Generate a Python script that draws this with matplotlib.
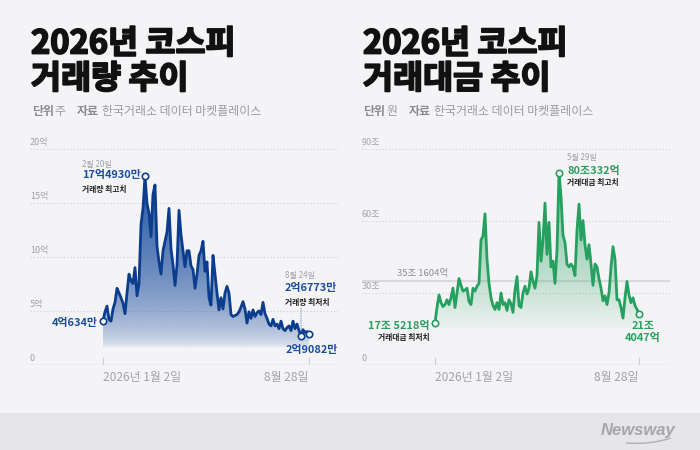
import numpy as np
import matplotlib
matplotlib.use("Agg")
import matplotlib.pyplot as plt
import matplotlib.patheffects as pe
from matplotlib.patches import PathPatch, Rectangle
from matplotlib.path import Path
from matplotlib.colors import to_rgb

plt.rcParams['font.family'] = ['Noto Sans CJK KR', 'DejaVu Sans']

# ---------------- data ----------------
# KOSPI daily trading volume (억 주), 2026-01-02 .. 2026-08-28
volume = [4.06, 4.93, 5.45, 4.23, 4.06, 5.19, 5.80, 7.10, 6.67, 6.23,
          5.71, 4.75, 6.67, 8.41, 7.80, 7.54, 9.02, 6.41, 7.54, 13.02,
          14.50, 17.49, 14.93, 14.06, 11.89, 15.80, 16.67, 11.02, 9.54, 8.41,
          10.58, 11.45, 12.32, 14.50, 10.76, 9.28, 7.36, 9.28, 14.32, 12.06,
          10.58, 9.10, 10.58, 10.58, 9.19, 8.84, 7.10, 8.41, 10.15, 10.58,
          11.45, 8.67, 9.54, 6.23, 5.54, 10.15, 8.41, 6.67, 5.10, 6.23,
          5.19, 6.67, 7.28, 6.67, 4.67, 4.49, 4.58, 4.67, 4.93, 5.36,
          5.87, 5.19, 3.88, 4.93, 4.32, 5.10, 4.49, 4.84, 5.01, 4.67,
          5.80, 4.75, 4.32, 3.79, 3.62, 4.23, 3.62, 3.79, 3.36, 4.06,
          3.36, 3.19, 3.45, 3.62, 3.19, 4.06, 3.36, 3.79, 3.19, 2.68,
          3.27, 3.01, 3.10, 2.91]

# KOSPI daily trading value (조 원), 2026-01-02 .. 2026-08-28
value = [17.52, 23.95, 29.19, 25.97, 24.36, 25.16, 27.17, 25.16, 27.98, 32.00,
         23.95, 29.99, 36.03, 33.21, 30.80, 31.20, 32.00, 26.37, 25.16, 32.00,
         30.80, 32.81, 34.02, 52.13, 53.74, 63.00, 44.08, 34.02, 27.98, 24.76,
         23.15, 25.97, 23.15, 29.99, 25.16, 25.97, 22.75, 27.17, 25.56, 21.94,
         31.20, 36.84, 24.76, 23.95, 29.99, 32.81, 29.59, 32.00, 38.85, 34.82,
         32.00, 37.24, 59.42, 43.28, 52.13, 67.43, 46.09, 59.42, 40.86, 43.28,
         34.02, 48.11, 80.03, 70.25, 54.15, 50.93, 42.07, 40.86, 42.07, 40.86,
         37.24, 56.16, 67.03, 52.13, 60.19, 50.12, 44.08, 50.12, 42.07, 33.21,
         42.07, 40.86, 36.03, 32.00, 26.77, 28.78, 25.16, 29.99, 40.86, 49.32,
         44.08, 27.17, 27.17, 23.95, 19.53, 27.98, 34.82, 29.19, 25.97, 27.98,
         24.76, 23.15, 21.40]

value_avg = 35.1604

vol_ticks = [0, 5, 10, 15, 20]
vol_tick_labels = ['0', '5억', '10억', '15억', '20억']
val_ticks = [0, 30, 60, 90]
val_tick_labels = ['0', '30조', '60조', '90조']
x_tick_labels = ['2026년 1월 2일', '8월 28일']

vol_min_idx = 99   # 8월 24일

# ---------------- style ----------------
W, H = 700, 450
BG = '#f4f4f6'
FOOT = '#e6e6e9'
GRID = '#cdcdd2'
GRAY = '#a3a3a8'
DARK = '#1c1c1c'
BLUE = '#0c3d8c'
BLUE_T = '#1a4c9e'
GREEN = '#25a05e'
GREEN_T = '#2a9f5e'

fig = plt.figure(figsize=(7, 4.5), dpi=100)
fig.patch.set_facecolor(BG)
fig.add_artist(Rectangle((0, 0), 1, (H - 413) / H, transform=fig.transFigure,
                         facecolor=FOOT, edgecolor='none', zorder=0))


def fx(x):
    return x / W


def fy(y):
    return 1 - y / H


def gradient_fill(ax, x, y, color, amax, vlo, vhi, power):
    poly = ax.fill_between(x, y, 0, facecolor='none', edgecolor='none')
    path = poly.get_paths()[0]
    patch = PathPatch(path, transform=ax.transData, facecolor='none', edgecolor='none')
    ax.add_patch(patch)
    n = 200
    levels = np.linspace(0, vhi, n)
    a = np.clip((levels - vlo) / (vhi - vlo), 0, 1) ** power * amax
    img = np.zeros((n, 1, 4))
    img[:, :, :3] = to_rgb(color)
    img[:, 0, 3] = a
    im = ax.imshow(img, aspect='auto', extent=[x.min(), x.max(), 0, vhi],
                   origin='lower', zorder=1, interpolation='bilinear')
    im.set_clip_path(patch)


def setup_axes(left_px, ylim_top, ticks, labels):
    ax = fig.add_axes([fx(left_px), fy(365), 308 / W, 225 / H])
    ax.set_facecolor('none')
    for s in ax.spines.values():
        s.set_visible(False)
    ax.set_xticks([])
    ax.set_yticks([])
    ax.set_xlim(-36.5, 117.5)
    ax.set_ylim(0, ylim_top)
    for t, lab in zip(ticks, labels):
        if t == 0:
            ax.axhline(0, color=GRID, lw=1.0, zorder=0)
        else:
            ax.axhline(t, color=GRID, lw=0.8, ls=(0, (1, 2)), zorder=0)
        ax.annotate(lab, xy=(0, t), xycoords=('axes fraction', 'data'),
                    xytext=(0, 2), textcoords='offset pixels',
                    ha='left', va='bottom', fontsize=6.5, color=GRAY)
    return ax


def x_ticks(ax, n):
    tr = ax.get_xaxis_transform()
    for i in (0, n - 1):
        ax.plot([i, i], [0, 0.03], color=GRID, lw=0.8, transform=tr, zorder=0)
    ax.text(0, -0.057, x_tick_labels[0], transform=tr, ha='left', va='center',
            fontsize=8.6, color=GRAY)
    ax.text(n - 1, -0.057, x_tick_labels[1], transform=tr, ha='right', va='center',
            fontsize=8.6, color=GRAY)


def note(ax, txt, xy, dx, dy, size, color, weight='normal', ha='left'):
    ax.annotate(txt, xy=xy, xytext=(dx, dy), textcoords='offset pixels',
                ha=ha, va='center', fontsize=size, color=color, fontweight=weight,
                zorder=6)


def ring(ax, x, y, color):
    ax.plot([x], [y], 'o', ms=4.6, mfc='white', mec=color, mew=1.2, zorder=7)


# ---------------- titles ----------------
heavy = [pe.withStroke(linewidth=1.3, foreground='#111111')]
for x0, line2 in ((31, '거래량 추이'), (363, '거래대금 추이')):
    fig.text(fx(x0), fy(44), '2026년 코스피', fontsize=23.5, fontweight='black',
             color='#111111', ha='left', va='center', path_effects=heavy)
    fig.text(fx(x0), fy(79), line2, fontsize=23.5, fontweight='black',
             color='#111111', ha='left', va='center', path_effects=heavy)

sub_parts_left = [(32, '단위', 'bold'), (54, '주', 'normal'), (77, '자료', 'bold'),
                  (102, '한국거래소 데이터 마켓플레이스', 'normal')]
sub_parts_right = [(363, '단위', 'bold'), (386, '원', 'normal'), (409, '자료', 'bold'),
                   (434, '한국거래소 데이터 마켓플레이스', 'normal')]
for parts in (sub_parts_left, sub_parts_right):
    for x0, t, w in parts:
        fig.text(fx(x0), fy(112), t, fontsize=8.6, fontweight=w,
                 color='#9a9aa0' if w == 'normal' else '#8a8a90',
                 ha='left', va='center')

# ---------------- left chart: volume ----------------
ax1 = setup_axes(30, 225 / 10.8, vol_ticks, vol_tick_labels)
xv = np.arange(len(volume))
yv = np.array(volume)
gradient_fill(ax1, xv, yv, '#1d4f9f', 0.95, 1.6, yv.max(), 0.5)
ax1.plot(xv, yv, color=BLUE, lw=2.0, zorder=5, solid_joinstyle='round')
x_ticks(ax1, len(volume))

ip = int(np.argmax(yv))
ring(ax1, ip, yv[ip], BLUE)
note(ax1, '2월 20일', (ip, yv[ip]), -63, 12, 5.8, GRAY)
note(ax1, '17억4930만', (ip, yv[ip]), -63, 1, 7.9, BLUE_T, 'bold')
note(ax1, '거래량 최고치', (ip, yv[ip]), -63, -13, 5.6, DARK, 'bold')

ring(ax1, 0, yv[0], BLUE)
note(ax1, '4억634만', (0, yv[0]), -5, -2, 7.9, BLUE_T, 'bold', ha='right')

im_ = vol_min_idx
ring(ax1, im_, yv[im_], BLUE)
ax1.annotate('', xy=(im_, yv[im_]), xytext=(0, 28), textcoords='offset pixels',
             arrowprops=dict(arrowstyle='-', color='#7f95bf', lw=0.7, ls=(0, (1, 1.5)),
                             shrinkA=0, shrinkB=3))
note(ax1, '8월 24일', (im_, yv[im_]), -16, 61, 5.8, GRAY)
note(ax1, '2억6773만', (im_, yv[im_]), -16, 48, 7.9, BLUE_T, 'bold')
note(ax1, '거래량 최저치', (im_, yv[im_]), -16, 34, 5.6, DARK, 'bold')

ie = len(volume) - 1
ring(ax1, ie, yv[ie], BLUE)
note(ax1, '2억9082만', (ie, yv[ie]), -23, -16.5, 7.9, BLUE_T, 'bold')

# ---------------- right chart: value ----------------
ax2 = setup_axes(362, 225 / 2.4, val_ticks, val_tick_labels)
xw = np.arange(len(value))
yw = np.array(value)
ax2.axhline(value_avg, color='#d9d9dd', lw=1.6, zorder=0)
ax2.annotate('35조 1604억', xy=(-19, value_avg), xytext=(0, 3), textcoords='offset pixels',
             ha='left', va='bottom', fontsize=6.8, color='#8e8e94')
gradient_fill(ax2, xw, yw, '#2aa362', 0.62, 14.0, yw.max(), 0.8)
ax2.plot(xw, yw, color=GREEN, lw=2.0, zorder=5, solid_joinstyle='round')
x_ticks(ax2, len(value))

jp = int(np.argmax(yw))
ring(ax2, jp, yw[jp], GREEN)
note(ax2, '5월 29일', (jp, yw[jp]), 8, 15, 5.8, GRAY)
note(ax2, '80조332억', (jp, yw[jp]), 8, 2, 7.9, GREEN_T, 'bold')
note(ax2, '거래대금 최고치', (jp, yw[jp]), 8, -10, 5.6, DARK, 'bold')

ring(ax2, 0, yw[0], GREEN)
note(ax2, '17조 5218억', (0, yw[0]), -5, -3, 7.9, GREEN_T, 'bold', ha='right')
note(ax2, '거래대금 최저치', (0, yw[0]), -5, -15, 5.6, DARK, 'bold', ha='right')

je = len(value) - 1
ring(ax2, je, yw[je], GREEN)
note(ax2, '21조', (je, yw[je]), 4, -12.5, 7.9, GREEN_T, 'bold', ha='center')
note(ax2, '4047억', (je, yw[je]), 4, -24.5, 7.9, GREEN_T, 'bold', ha='center')

# ---------------- footer logo ----------------
fig.text(fx(638), fy(430), 'Newsway', fontsize=12, fontweight='bold', fontstyle='italic',
         family=['Liberation Sans Narrow', 'Liberation Sans', 'DejaVu Sans'],
         color='#a6a6ab', ha='center', va='center')
sw = Path([(fx(626), fy(443)), (fx(650), fy(445)), (fx(671), fy(438))],
          [Path.MOVETO, Path.CURVE3, Path.CURVE3])
fig.add_artist(PathPatch(sw, transform=fig.transFigure, facecolor='none',
                         edgecolor='#b0b0b5', lw=1.0))

fig.savefig('out.png', dpi=100, facecolor=BG)
